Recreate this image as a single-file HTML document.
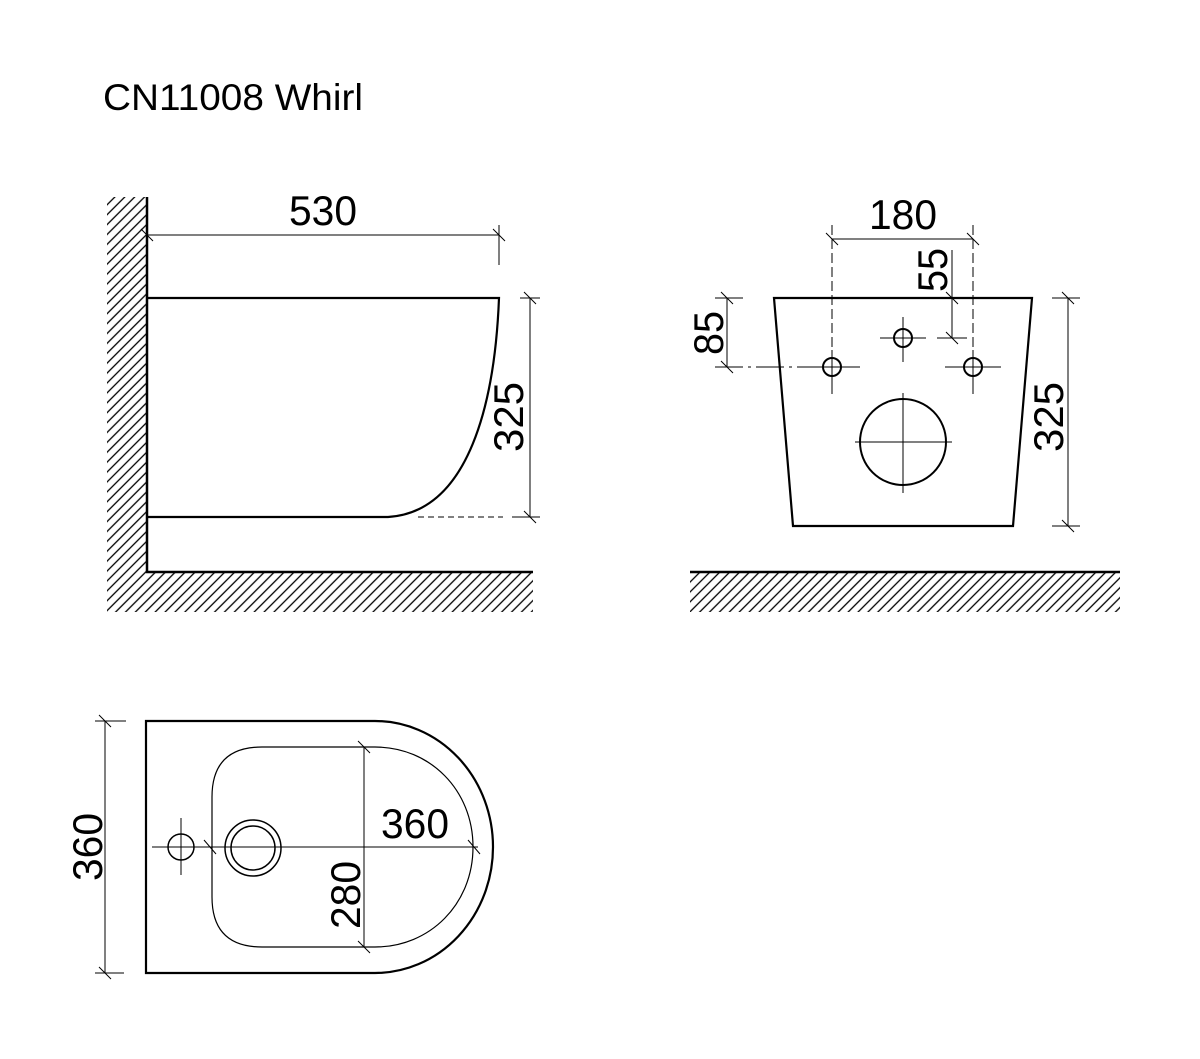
<!DOCTYPE html>
<html><head><meta charset="utf-8"><style>html,body{margin:0;padding:0;background:#fff}svg{display:block}</style></head>
<body>
<svg width="1200" height="1059" viewBox="0 0 1200 1059" xmlns="http://www.w3.org/2000/svg" font-family="Liberation Sans, sans-serif">
<defs>
<pattern id="h" patternUnits="userSpaceOnUse" width="7" height="7" patternTransform="rotate(45)">
<line x1="3.5" y1="-1" x2="3.5" y2="8" stroke="#000" stroke-width="1.3"/>
</pattern>
</defs>
<rect width="1200" height="1059" fill="#fff"/>
<text x="103" y="110" font-size="37" textLength="260" lengthAdjust="spacingAndGlyphs">CN11008 Whirl</text>

<!-- Side view -->
<rect x="107" y="197" width="40" height="415" fill="url(#h)"/>
<rect x="147" y="573" width="386" height="39" fill="url(#h)"/>
<polyline points="147,197 147,572 533,572" fill="none" stroke="#000" stroke-width="2.5"/>
<path d="M147,298 L499,298 C495,400 470,512 388,517 L147,517" fill="none" stroke="#000" stroke-width="2.2"/>
<line x1="418" y1="517" x2="503" y2="517" stroke="#000" stroke-dasharray="6,4"/>
<g stroke="#000" stroke-width="1">
<line x1="147" y1="235" x2="499" y2="235"/>
<line x1="499" y1="225" x2="499" y2="265"/>
<line x1="141" y1="229" x2="153" y2="241"/><line x1="493" y1="229" x2="505" y2="241"/>
<line x1="530" y1="298" x2="530" y2="517"/>
<line x1="520" y1="298" x2="540" y2="298"/><line x1="512" y1="517" x2="540" y2="517"/>
<line x1="524" y1="292" x2="536" y2="304"/><line x1="524" y1="511" x2="536" y2="523"/>
</g>
<text x="323" y="225" font-size="42" text-anchor="middle" textLength="68" lengthAdjust="spacingAndGlyphs">530</text>
<text transform="translate(523,417) rotate(-90)" font-size="42" text-anchor="middle" textLength="70" lengthAdjust="spacingAndGlyphs">325</text>

<!-- Front view -->
<rect x="690" y="573" width="430" height="39" fill="url(#h)"/>
<line x1="690" y1="572" x2="1120" y2="572" stroke="#000" stroke-width="2.5"/>
<polygon points="774,298 1032,298 1013,526 793,526" fill="none" stroke="#000" stroke-width="2.2"/>
<g fill="none" stroke="#000" stroke-width="2">
<circle cx="832" cy="367" r="9"/><circle cx="973" cy="367" r="9"/><circle cx="903" cy="338" r="9"/>
<circle cx="903" cy="442" r="43"/>
</g>
<g stroke="#000" stroke-width="1">
<line x1="808" y1="367" x2="860" y2="367"/><line x1="832" y1="350" x2="832" y2="394"/>
<line x1="945" y1="367" x2="1001" y2="367"/><line x1="973" y1="350" x2="973" y2="394"/>
<line x1="880" y1="338" x2="926" y2="338"/><line x1="903" y1="317" x2="903" y2="362"/>
<line x1="855" y1="442" x2="952" y2="442"/><line x1="903" y1="393" x2="903" y2="493"/>
<line x1="832" y1="225" x2="832" y2="350" stroke-dasharray="10,4"/>
<line x1="973" y1="225" x2="973" y2="350" stroke-dasharray="10,4"/>
<line x1="832" y1="239" x2="973" y2="239"/>
<line x1="826" y1="233" x2="838" y2="245"/><line x1="967" y1="233" x2="979" y2="245"/>
<line x1="952" y1="250" x2="952" y2="338"/>
<line x1="937" y1="338" x2="967" y2="338"/>
<line x1="946" y1="292" x2="958" y2="304"/><line x1="946" y1="332" x2="958" y2="344"/>
<line x1="727" y1="298" x2="727" y2="367"/>
<line x1="715" y1="298" x2="743" y2="298"/>
<line x1="715" y1="367" x2="860" y2="367" stroke-dasharray="28,5,3,5"/>
<line x1="721" y1="292" x2="733" y2="304"/><line x1="721" y1="361" x2="733" y2="373"/>
<line x1="1068" y1="298" x2="1068" y2="526"/>
<line x1="1052" y1="298" x2="1080" y2="298"/><line x1="1052" y1="526" x2="1080" y2="526"/>
<line x1="1062" y1="292" x2="1074" y2="304"/><line x1="1062" y1="520" x2="1074" y2="532"/>
</g>
<text x="903" y="229" font-size="42" text-anchor="middle" textLength="68" lengthAdjust="spacingAndGlyphs">180</text>
<text transform="translate(947,270) rotate(-90)" font-size="42" text-anchor="middle" textLength="44" lengthAdjust="spacingAndGlyphs">55</text>
<text transform="translate(723,333) rotate(-90)" font-size="42" text-anchor="middle" textLength="44" lengthAdjust="spacingAndGlyphs">85</text>
<text transform="translate(1063,417) rotate(-90)" font-size="42" text-anchor="middle" textLength="70" lengthAdjust="spacingAndGlyphs">325</text>

<!-- Top view -->
<path d="M146,721 L375,721 A118,126 0 0 1 375,973 L146,973 Z" fill="none" stroke="#000" stroke-width="2.2"/>
<path d="M262,747 L375,747 C430,747 473,790 473,847 C473,904 430,947 375,947 L262,947 Q212,947 212,897 L212,797 Q212,747 262,747 Z" fill="none" stroke="#000" stroke-width="1.2"/>
<g fill="none" stroke="#000" stroke-width="1.5">
<circle cx="181" cy="847" r="13"/>
<circle cx="253" cy="848" r="28"/><circle cx="253" cy="848" r="22"/>
</g>
<g stroke="#000" stroke-width="1">
<line x1="152" y1="847" x2="478" y2="847"/>
<line x1="181" y1="818" x2="181" y2="875"/>
<line x1="204" y1="840" x2="216" y2="854"/><line x1="468" y1="840" x2="480" y2="854"/>
<line x1="364" y1="747" x2="364" y2="947"/>
<line x1="358" y1="741" x2="370" y2="753"/><line x1="358" y1="941" x2="370" y2="953"/>
<line x1="105" y1="721" x2="105" y2="973"/>
<line x1="95" y1="721" x2="126" y2="721"/><line x1="95" y1="973" x2="124" y2="973"/>
<line x1="99" y1="715" x2="111" y2="727"/><line x1="99" y1="967" x2="111" y2="979"/>
</g>
<text x="415" y="838" font-size="42" text-anchor="middle" textLength="68" lengthAdjust="spacingAndGlyphs">360</text>
<text transform="translate(360,895) rotate(-90)" font-size="42" text-anchor="middle" textLength="68" lengthAdjust="spacingAndGlyphs">280</text>
<text transform="translate(102,847) rotate(-90)" font-size="42" text-anchor="middle" textLength="68" lengthAdjust="spacingAndGlyphs">360</text>
</svg>
</body></html>
